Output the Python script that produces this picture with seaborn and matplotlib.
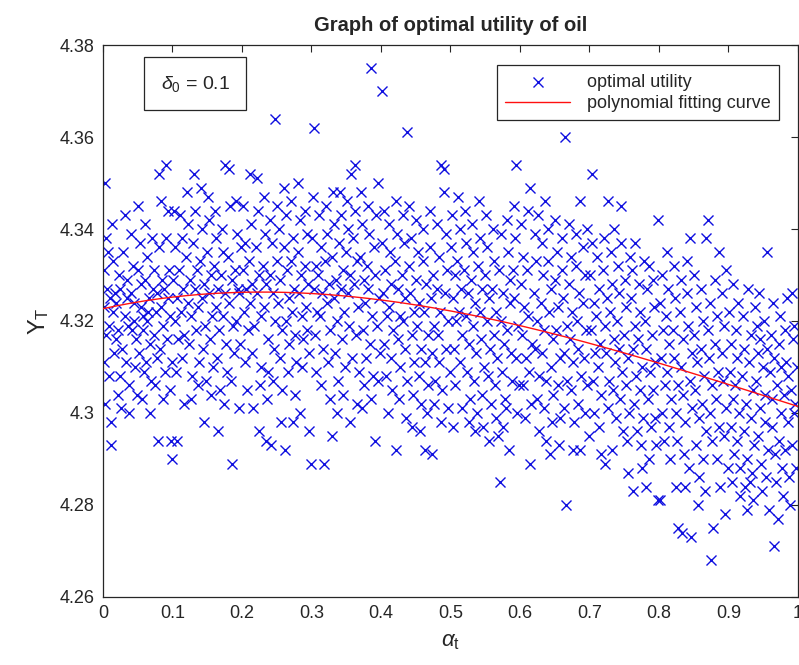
import numpy as np
import pandas as pd
import matplotlib
matplotlib.use("Agg")
import matplotlib.pyplot as plt
import seaborn as sns

# ---- simulated optimal utility samples (alpha_t, Y_T), grouped by alpha band ----
band_0 = [(0.003,4.350),(0.004,4.338),(0.007,4.335),(0.002,4.331),(0.006,4.327),(0.001,4.323),(0.009,4.319),(0.004,4.317),
          (0.002,4.311),(0.008,4.308),(0.003,4.302),(0.011,4.298),(0.012,4.293),(0.014,4.333),(0.017,4.326),(0.015,4.322),
          (0.019,4.316),(0.016,4.313),(0.021,4.304),(0.013,4.341),(0.023,4.330),(0.025,4.327),(0.022,4.318),(0.027,4.314),
          (0.024,4.308),(0.026,4.301),(0.031,4.343),(0.029,4.335),(0.034,4.329),(0.032,4.321),(0.036,4.319),(0.033,4.311),
          (0.038,4.306),(0.037,4.300),(0.041,4.339),(0.043,4.332),(0.040,4.326),(0.045,4.324),(0.044,4.320),(0.047,4.316),
          (0.046,4.310),(0.049,4.304),(0.051,4.345),(0.053,4.337),(0.050,4.331),(0.055,4.328),(0.054,4.323),(0.057,4.318),
          (0.052,4.313),(0.059,4.309),(0.056,4.303),(0.061,4.341),(0.063,4.334),(0.060,4.329),(0.066,4.325),(0.064,4.320),
          (0.067,4.315),(0.062,4.311),(0.069,4.307),(0.068,4.300),(0.071,4.338),(0.074,4.331),(0.072,4.327),(0.076,4.322),
          (0.073,4.317),(0.078,4.312),(0.075,4.306),(0.079,4.294),(0.081,4.352),(0.083,4.346),(0.080,4.336),(0.085,4.329),
          (0.084,4.323),(0.087,4.319),(0.082,4.314),(0.089,4.309),(0.086,4.303),(0.091,4.354),(0.093,4.344),(0.090,4.338),
          (0.095,4.331),(0.094,4.325),(0.097,4.321),(0.092,4.316),(0.099,4.311),(0.096,4.305),(0.098,4.294),(0.100,4.290),
          (0.018,4.324),(0.035,4.325),(0.058,4.321),(0.077,4.326),(0.088,4.327),(0.042,4.318),(0.065,4.322),(0.010,4.325)]

band_1 = [(0.102,4.344),(0.104,4.336),(0.101,4.329),(0.106,4.325),(0.103,4.320),(0.108,4.316),(0.105,4.309),(0.107,4.294),
          (0.111,4.343),(0.113,4.338),(0.110,4.331),(0.115,4.327),(0.112,4.322),(0.117,4.317),(0.114,4.312),(0.116,4.302),
          (0.121,4.348),(0.123,4.341),(0.120,4.334),(0.125,4.329),(0.122,4.324),(0.127,4.321),(0.124,4.315),(0.128,4.308),
          (0.126,4.303),(0.131,4.352),(0.133,4.344),(0.130,4.337),(0.135,4.331),(0.132,4.327),(0.137,4.323),(0.134,4.318),
          (0.138,4.311),(0.136,4.306),(0.141,4.349),(0.143,4.340),(0.140,4.333),(0.145,4.328),(0.142,4.325),(0.147,4.319),
          (0.144,4.314),(0.148,4.307),(0.146,4.298),(0.151,4.347),(0.153,4.342),(0.150,4.335),(0.155,4.330),(0.152,4.326),
          (0.157,4.321),(0.154,4.316),(0.158,4.310),(0.156,4.304),(0.161,4.344),(0.163,4.338),(0.160,4.332),(0.165,4.327),
          (0.162,4.323),(0.167,4.318),(0.164,4.312),(0.168,4.305),(0.166,4.296),(0.171,4.340),(0.173,4.335),(0.170,4.330),
          (0.175,4.326),(0.172,4.321),(0.177,4.315),(0.176,4.354),(0.178,4.309),(0.174,4.302),(0.181,4.353),(0.183,4.345),
          (0.180,4.334),(0.185,4.329),(0.182,4.324),(0.187,4.319),(0.186,4.289),(0.188,4.313),(0.184,4.307),(0.191,4.346),
          (0.193,4.339),(0.190,4.331),(0.195,4.326),(0.192,4.320),(0.197,4.315),(0.196,4.301),(0.199,4.336),(0.194,4.327)]

band_2 = [(0.202,4.345),(0.204,4.337),(0.201,4.331),(0.206,4.327),(0.203,4.322),(0.208,4.318),(0.205,4.311),(0.207,4.305),
          (0.212,4.352),(0.213,4.341),(0.210,4.333),(0.215,4.328),(0.211,4.324),(0.217,4.319),(0.214,4.313),(0.216,4.301),
          (0.222,4.351),(0.223,4.344),(0.220,4.336),(0.225,4.330),(0.221,4.326),(0.227,4.321),(0.224,4.296),(0.228,4.310),
          (0.226,4.306),(0.231,4.347),(0.233,4.339),(0.230,4.332),(0.235,4.328),(0.232,4.323),(0.237,4.316),(0.234,4.294),
          (0.238,4.309),(0.236,4.303),(0.241,4.342),(0.243,4.337),(0.240,4.330),(0.245,4.326),(0.242,4.293),(0.247,4.320),
          (0.248,4.364),(0.246,4.314),(0.244,4.307),(0.251,4.345),(0.253,4.340),(0.250,4.333),(0.255,4.329),(0.252,4.324),
          (0.257,4.318),(0.254,4.312),(0.258,4.305),(0.256,4.298),(0.261,4.349),(0.263,4.343),(0.260,4.336),(0.265,4.331),
          (0.262,4.292),(0.267,4.325),(0.264,4.320),(0.268,4.315),(0.266,4.309),(0.271,4.346),(0.273,4.338),(0.270,4.333),
          (0.275,4.327),(0.272,4.322),(0.277,4.317),(0.274,4.298),(0.278,4.311),(0.276,4.304),(0.281,4.350),(0.283,4.342),
          (0.280,4.335),(0.285,4.330),(0.282,4.326),(0.287,4.321),(0.284,4.300),(0.288,4.316),(0.286,4.310),(0.291,4.344),
          (0.293,4.339),(0.290,4.332),(0.295,4.328),(0.292,4.323),(0.297,4.296),(0.294,4.318),(0.299,4.289),(0.296,4.313)]

band_3 = [(0.302,4.347),(0.304,4.362),(0.301,4.338),(0.306,4.332),(0.303,4.327),(0.308,4.322),(0.305,4.317),(0.307,4.309),
          (0.311,4.343),(0.313,4.336),(0.310,4.330),(0.315,4.326),(0.312,4.321),(0.317,4.314),(0.314,4.306),(0.318,4.289),
          (0.321,4.345),(0.323,4.339),(0.320,4.333),(0.325,4.328),(0.322,4.324),(0.327,4.318),(0.324,4.311),(0.329,4.295),
          (0.326,4.303),(0.331,4.348),(0.333,4.341),(0.330,4.334),(0.335,4.329),(0.332,4.325),(0.337,4.320),(0.334,4.313),
          (0.338,4.307),(0.336,4.300),(0.341,4.348),(0.343,4.343),(0.340,4.337),(0.345,4.331),(0.342,4.327),(0.347,4.322),
          (0.344,4.316),(0.348,4.310),(0.346,4.304),(0.351,4.346),(0.353,4.340),(0.350,4.335),(0.355,4.330),(0.352,4.326),
          (0.357,4.352),(0.354,4.319),(0.358,4.312),(0.356,4.298),(0.362,4.354),(0.363,4.344),(0.360,4.338),(0.365,4.333),
          (0.361,4.328),(0.367,4.323),(0.364,4.317),(0.368,4.309),(0.366,4.302),(0.371,4.348),(0.373,4.341),(0.370,4.334),
          (0.375,4.329),(0.372,4.301),(0.377,4.324),(0.374,4.318),(0.378,4.312),(0.376,4.306),(0.381,4.345),(0.383,4.339),
          (0.380,4.332),(0.386,4.375),(0.382,4.327),(0.387,4.321),(0.384,4.315),(0.388,4.308),(0.385,4.303),(0.391,4.294),
          (0.393,4.343),(0.390,4.336),(0.395,4.350),(0.392,4.330),(0.397,4.325),(0.394,4.319),(0.399,4.313),(0.396,4.307)]

band_4 = [(0.402,4.370),(0.404,4.344),(0.401,4.337),(0.406,4.331),(0.403,4.326),(0.408,4.321),(0.405,4.315),(0.407,4.308),
          (0.411,4.341),(0.413,4.335),(0.410,4.300),(0.415,4.328),(0.412,4.323),(0.417,4.318),(0.414,4.312),(0.416,4.305),
          (0.421,4.346),(0.423,4.339),(0.420,4.333),(0.422,4.292),(0.424,4.327),(0.427,4.321),(0.425,4.316),(0.428,4.310),
          (0.426,4.303),(0.431,4.343),(0.433,4.337),(0.430,4.330),(0.435,4.325),(0.432,4.320),(0.437,4.361),(0.434,4.314),
          (0.438,4.307),(0.436,4.299),(0.441,4.345),(0.443,4.338),(0.440,4.332),(0.445,4.297),(0.442,4.326),(0.447,4.322),
          (0.444,4.317),(0.448,4.311),(0.446,4.304),(0.451,4.342),(0.453,4.335),(0.450,4.329),(0.455,4.324),(0.452,4.319),
          (0.457,4.314),(0.454,4.308),(0.458,4.302),(0.456,4.296),(0.461,4.340),(0.463,4.292),(0.460,4.333),(0.465,4.328),
          (0.462,4.322),(0.467,4.317),(0.464,4.311),(0.468,4.306),(0.466,4.300),(0.471,4.344),(0.473,4.291),(0.470,4.336),
          (0.475,4.330),(0.472,4.325),(0.477,4.319),(0.474,4.313),(0.478,4.307),(0.476,4.302),(0.481,4.341),(0.483,4.334),
          (0.480,4.327),(0.485,4.322),(0.482,4.317),(0.487,4.354),(0.484,4.311),(0.488,4.305),(0.486,4.298),(0.491,4.348),
          (0.493,4.339),(0.490,4.353),(0.495,4.331),(0.492,4.326),(0.497,4.320),(0.494,4.314),(0.499,4.309),(0.496,4.301)]

band_5 = [(0.502,4.343),(0.504,4.297),(0.501,4.336),(0.506,4.330),(0.503,4.325),(0.508,4.320),(0.505,4.314),(0.507,4.306),
          (0.511,4.347),(0.513,4.340),(0.510,4.333),(0.515,4.327),(0.512,4.322),(0.517,4.317),(0.514,4.311),(0.516,4.301),
          (0.521,4.344),(0.523,4.337),(0.520,4.331),(0.525,4.326),(0.522,4.321),(0.527,4.315),(0.524,4.309),(0.528,4.303),
          (0.526,4.298),(0.531,4.341),(0.533,4.335),(0.530,4.329),(0.535,4.324),(0.532,4.319),(0.537,4.313),(0.534,4.307),
          (0.538,4.300),(0.536,4.296),(0.541,4.346),(0.543,4.338),(0.540,4.332),(0.545,4.327),(0.542,4.322),(0.547,4.297),
          (0.544,4.316),(0.548,4.310),(0.546,4.304),(0.551,4.343),(0.553,4.336),(0.550,4.330),(0.555,4.325),(0.552,4.320),
          (0.557,4.314),(0.554,4.308),(0.558,4.302),(0.556,4.294),(0.561,4.340),(0.563,4.333),(0.560,4.327),(0.565,4.322),
          (0.562,4.317),(0.567,4.312),(0.564,4.306),(0.569,4.295),(0.566,4.299),(0.571,4.285),(0.573,4.339),(0.570,4.331),
          (0.575,4.326),(0.572,4.320),(0.577,4.315),(0.574,4.309),(0.578,4.303),(0.576,4.297),(0.581,4.342),(0.583,4.335),
          (0.580,4.301),(0.585,4.324),(0.582,4.318),(0.587,4.313),(0.584,4.292),(0.588,4.307),(0.586,4.329),(0.591,4.345),
          (0.593,4.338),(0.590,4.331),(0.595,4.354),(0.592,4.325),(0.597,4.319),(0.594,4.312),(0.599,4.306),(0.596,4.300)]

band_6 = [(0.602,4.341),(0.604,4.334),(0.601,4.328),(0.606,4.323),(0.603,4.317),(0.608,4.312),(0.605,4.306),(0.607,4.299),
          (0.611,4.344),(0.614,4.349),(0.610,4.331),(0.615,4.289),(0.612,4.321),(0.617,4.315),(0.613,4.309),(0.616,4.302),
          (0.621,4.339),(0.623,4.333),(0.620,4.326),(0.625,4.320),(0.622,4.314),(0.627,4.308),(0.624,4.303),(0.628,4.296),
          (0.626,4.343),(0.631,4.337),(0.633,4.330),(0.630,4.324),(0.635,4.318),(0.632,4.313),(0.637,4.307),(0.634,4.301),
          (0.638,4.294),(0.636,4.346),(0.641,4.340),(0.643,4.291),(0.640,4.333),(0.645,4.327),(0.642,4.322),(0.647,4.316),
          (0.644,4.310),(0.648,4.304),(0.646,4.298),(0.651,4.342),(0.653,4.335),(0.650,4.329),(0.655,4.323),(0.652,4.318),
          (0.657,4.312),(0.654,4.306),(0.658,4.299),(0.656,4.293),(0.661,4.338),(0.665,4.360),(0.660,4.331),(0.666,4.280),
          (0.662,4.325),(0.667,4.319),(0.664,4.313),(0.668,4.307),(0.663,4.301),(0.671,4.341),(0.673,4.334),(0.670,4.328),
          (0.675,4.322),(0.672,4.316),(0.677,4.311),(0.674,4.305),(0.678,4.298),(0.676,4.292),(0.681,4.339),(0.686,4.346),
          (0.680,4.332),(0.685,4.326),(0.682,4.320),(0.687,4.292),(0.684,4.314),(0.688,4.308),(0.683,4.302),(0.691,4.336),
          (0.693,4.330),(0.690,4.324),(0.695,4.318),(0.692,4.312),(0.697,4.306),(0.694,4.300),(0.699,4.295),(0.696,4.340)]

band_7 = [(0.703,4.352),(0.704,4.337),(0.701,4.330),(0.706,4.324),(0.702,4.318),(0.708,4.313),(0.705,4.307),(0.707,4.300),
          (0.711,4.334),(0.713,4.327),(0.710,4.321),(0.715,4.315),(0.712,4.310),(0.717,4.304),(0.714,4.297),(0.716,4.291),
          (0.721,4.338),(0.722,4.289),(0.720,4.331),(0.725,4.325),(0.723,4.319),(0.727,4.346),(0.724,4.313),(0.728,4.307),
          (0.726,4.301),(0.731,4.335),(0.733,4.328),(0.730,4.322),(0.735,4.316),(0.732,4.292),(0.737,4.311),(0.734,4.305),
          (0.738,4.299),(0.736,4.340),(0.741,4.332),(0.743,4.326),(0.740,4.320),(0.746,4.345),(0.742,4.314),(0.747,4.309),
          (0.744,4.303),(0.748,4.296),(0.745,4.337),(0.751,4.329),(0.753,4.323),(0.750,4.317),(0.755,4.312),(0.752,4.306),
          (0.757,4.300),(0.754,4.294),(0.758,4.334),(0.756,4.287),(0.761,4.331),(0.763,4.283),(0.760,4.325),(0.765,4.319),
          (0.762,4.314),(0.767,4.308),(0.764,4.302),(0.768,4.296),(0.766,4.337),(0.771,4.328),(0.773,4.322),(0.770,4.316),
          (0.775,4.310),(0.772,4.305),(0.777,4.299),(0.774,4.293),(0.778,4.333),(0.776,4.288),(0.781,4.284),(0.783,4.327),
          (0.780,4.320),(0.785,4.290),(0.782,4.314),(0.787,4.309),(0.784,4.303),(0.788,4.297),(0.786,4.332),(0.791,4.329),
          (0.793,4.323),(0.790,4.317),(0.795,4.311),(0.792,4.305),(0.799,4.342),(0.794,4.299),(0.798,4.281),(0.796,4.293)]

band_8 = [(0.801,4.281),(0.804,4.330),(0.802,4.324),(0.806,4.318),(0.803,4.312),(0.808,4.306),(0.805,4.300),(0.807,4.294),
          (0.811,4.335),(0.813,4.327),(0.810,4.321),(0.815,4.315),(0.812,4.309),(0.817,4.303),(0.814,4.297),(0.816,4.290),
          (0.821,4.332),(0.823,4.325),(0.820,4.318),(0.825,4.284),(0.822,4.312),(0.827,4.306),(0.824,4.300),(0.828,4.275),
          (0.826,4.294),(0.831,4.329),(0.833,4.274),(0.830,4.322),(0.835,4.316),(0.832,4.310),(0.837,4.284),(0.834,4.304),
          (0.838,4.298),(0.836,4.291),(0.841,4.333),(0.845,4.338),(0.840,4.326),(0.846,4.273),(0.842,4.319),(0.847,4.313),
          (0.844,4.307),(0.848,4.301),(0.843,4.288),(0.851,4.330),(0.853,4.323),(0.850,4.317),(0.855,4.311),(0.852,4.305),
          (0.857,4.299),(0.854,4.293),(0.858,4.286),(0.856,4.280),(0.861,4.327),(0.863,4.320),(0.860,4.314),(0.865,4.308),
          (0.862,4.302),(0.867,4.296),(0.864,4.290),(0.868,4.338),(0.866,4.283),(0.871,4.342),(0.873,4.324),(0.870,4.318),
          (0.875,4.268),(0.872,4.312),(0.877,4.306),(0.874,4.300),(0.878,4.275),(0.876,4.294),(0.881,4.329),(0.883,4.321),
          (0.880,4.315),(0.885,4.309),(0.882,4.303),(0.887,4.297),(0.884,4.290),(0.888,4.284),(0.886,4.335),(0.891,4.326),
          (0.893,4.319),(0.890,4.313),(0.895,4.278),(0.892,4.307),(0.897,4.301),(0.894,4.295),(0.899,4.288),(0.896,4.331)]

band_9 = [(0.901,4.322),(0.904,4.315),(0.902,4.309),(0.906,4.303),(0.903,4.297),(0.908,4.291),(0.905,4.285),(0.907,4.328),
          (0.911,4.318),(0.913,4.312),(0.910,4.306),(0.915,4.300),(0.912,4.294),(0.917,4.288),(0.914,4.324),(0.916,4.282),
          (0.921,4.321),(0.923,4.314),(0.920,4.308),(0.925,4.302),(0.922,4.296),(0.927,4.290),(0.924,4.284),(0.928,4.327),
          (0.926,4.279),(0.931,4.285),(0.933,4.317),(0.930,4.311),(0.935,4.305),(0.932,4.299),(0.937,4.293),(0.934,4.287),
          (0.938,4.323),(0.936,4.281),(0.941,4.319),(0.943,4.313),(0.940,4.307),(0.945,4.301),(0.942,4.295),(0.947,4.289),
          (0.944,4.326),(0.948,4.283),(0.946,4.316),(0.951,4.320),(0.955,4.335),(0.950,4.310),(0.953,4.304),(0.952,4.298),
          (0.957,4.292),(0.954,4.286),(0.958,4.279),(0.956,4.314),(0.961,4.317),(0.965,4.271),(0.960,4.309),(0.963,4.303),
          (0.962,4.297),(0.967,4.291),(0.964,4.324),(0.968,4.285),(0.966,4.312),(0.971,4.277),(0.973,4.315),(0.970,4.306),
          (0.975,4.300),(0.972,4.294),(0.977,4.288),(0.974,4.321),(0.978,4.282),(0.976,4.310),(0.981,4.318),(0.983,4.311),
          (0.980,4.304),(0.985,4.298),(0.982,4.292),(0.987,4.286),(0.984,4.325),(0.988,4.280),(0.986,4.308),(0.991,4.326),
          (0.993,4.316),(0.990,4.305),(0.995,4.300),(0.992,4.293),(0.997,4.288),(0.994,4.319),(0.999,4.310),(0.996,4.302)]

# values of the fitted polynomial at a few alpha positions
fit_alpha = [0.0, 0.16, 0.33, 0.49, 0.65, 0.82, 1.0]
fit_value = [4.3228, 4.3257, 4.3257, 4.3228, 4.3170, 4.3098, 4.3015]

x_ticks = [0, 0.1, 0.2, 0.3, 0.4, 0.5, 0.6, 0.7, 0.8, 0.9, 1]
x_tick_labels = ["0", "0.1", "0.2", "0.3", "0.4", "0.5", "0.6", "0.7", "0.8", "0.9", "1"]
y_ticks = [4.26, 4.28, 4.30, 4.32, 4.34, 4.36, 4.38]
y_tick_labels = ["4.26", "4.28", "4.3", "4.32", "4.34", "4.36", "4.38"]

points = band_0 + band_1 + band_2 + band_3 + band_4 + band_5 + band_6 + band_7 + band_8 + band_9
samples = pd.DataFrame(points, columns=["alpha", "utility"])

coef = np.polyfit(fit_alpha, fit_value, 3)
grid = np.linspace(0, 1, 200)
curve = pd.DataFrame({"alpha": grid, "utility": np.polyval(coef, grid)})

sns.set_style("white")
plt.rcParams["font.family"] = ["Liberation Sans", "DejaVu Sans"]
plt.rcParams["mathtext.fontset"] = "custom"
plt.rcParams["mathtext.rm"] = "Liberation Sans"
plt.rcParams["mathtext.it"] = "Liberation Sans:italic"

axis_grey = "#262626"
fig = plt.figure(figsize=(7.99, 6.65), dpi=100)
ax = fig.add_axes([0.1289, 0.1023, 0.8698, 0.8300])

sns.scatterplot(data=samples, x="alpha", y="utility", marker="x", color="#1010e0",
                s=52, linewidth=1.0, ax=ax, label="optimal utility", zorder=2)
sns.lineplot(data=curve, x="alpha", y="utility", color="#ff1010", linewidth=1.0,
             ax=ax, label="polynomial fitting curve", zorder=3)

ax.set_xlim(0, 1)
ax.set_ylim(4.26, 4.38)
ax.set_xticks(x_ticks)
ax.set_xticklabels(x_tick_labels)
ax.set_yticks(y_ticks)
ax.set_yticklabels(y_tick_labels)
ax.tick_params(direction="in", length=5, width=0.8, top=True, right=True,
               labelsize=13, colors=axis_grey, pad=6)
for sp in ax.spines.values():
    sp.set_visible(True)
    sp.set_color(axis_grey)
    sp.set_linewidth(0.9)

ax.set_title("Graph of optimal utility of oil", fontsize=14.5, fontweight="bold", pad=10)
ax.set_xlabel(r"$\alpha_{\rm t}$", fontsize=16, labelpad=6)
ax.set_ylabel(r"$\rm Y_T$", fontsize=17, labelpad=6)

leg = ax.legend(loc="upper right", bbox_to_anchor=(0.972, 0.963), fontsize=13,
                frameon=True, fancybox=False, edgecolor=axis_grey, framealpha=1,
                handlelength=3.6, borderpad=0.45, labelspacing=0.25, handletextpad=0.9,
                borderaxespad=0)
leg.get_frame().set_linewidth(0.9)

ax.text(0.083, 0.93, r"$\delta_0$ = 0.1", transform=ax.transAxes, fontsize=14,
        va="center", ha="left",
        bbox=dict(boxstyle="square,pad=0.85", facecolor="white", edgecolor=axis_grey, linewidth=0.9))

fig.savefig("out.png", dpi=100)
